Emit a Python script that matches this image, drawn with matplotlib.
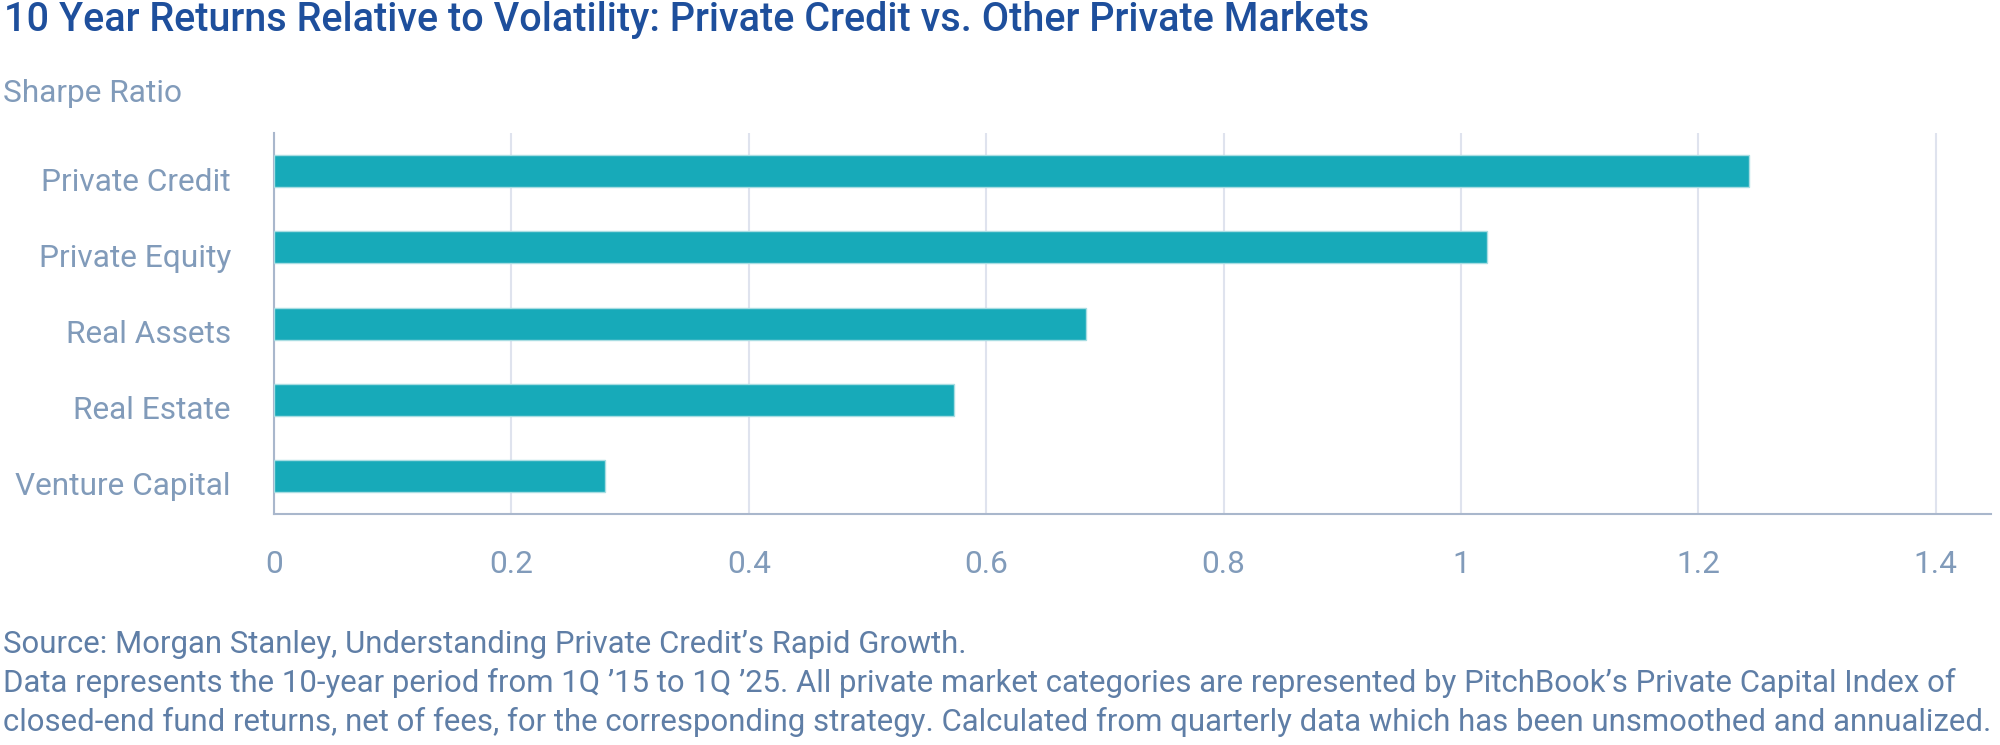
import matplotlib
matplotlib.use("Agg")
import matplotlib.pyplot as plt
from matplotlib.transforms import ScaledTranslation

categories = ["Private Credit", "Private Equity", "Real Assets", "Real Estate", "Venture Capital"]
sharpe = [1.243, 1.022, 0.684, 0.573, 0.279]
xticks = [0, 0.2, 0.4, 0.6, 0.8, 1.0, 1.2, 1.4]
xtick_labels = ["0", "0.2", "0.4", "0.6", "0.8", "1", "1.2", "1.4"]

title = "10 Year Returns Relative to Volatility: Private Credit vs. Other Private Markets"
subtitle = "Sharpe Ratio"
notes = [
    "Source: Morgan Stanley, Understanding Private Credit\u2019s Rapid Growth.",
    "Data represents the 10-year period from 1Q \u201915 to 1Q \u201925. All private market categories are represented by PitchBook\u2019s Private Capital Index of",
    "closed-end fund returns, net of fees, for the corresponding strategy. Calculated from quarterly data which has been unsmoothed and annualized.",
]

TEAL = "#17aab9"
TITLE_C = "#1e4f9c"
LABEL_C = "#819bba"
NOTE_C = "#5f7ea6"
GRID_C = "#dfe3ee"
SPINE_C = "#a9b7cc"

plt.rcParams["font.family"] = ["Roboto", "DejaVu Sans"]

W, H = 2000, 745
fig = plt.figure(figsize=(W / 100, H / 100), dpi=100)
ax = fig.add_axes([0.137, 0.31, 0.9955 - 0.137, 0.8215 - 0.31])

ypos = list(range(len(categories)))
ax.barh(ypos, sharpe, height=0.42, color=TEAL, edgecolor="#a8dde2", linewidth=1.0, zorder=3)
ax.set_ylim(len(categories) - 0.5, -0.5)
ax.set_xlim(0, 1.4465)

ax.set_yticks(ypos)
ax.set_yticklabels(categories)
ax.set_xticks(xticks)
ax.set_xticklabels(xtick_labels)
ax.tick_params(axis="y", length=0, pad=31, labelsize=22.8, labelcolor=LABEL_C)
ax.tick_params(axis="x", length=0, pad=26, labelsize=22.8, labelcolor=LABEL_C)
# category labels sit a little below the bar centres in the original
for lab in ax.get_yticklabels():
    lab.set_transform(lab.get_transform() + ScaledTranslation(0, -0.08, fig.dpi_scale_trans))

ax.grid(axis="x", color=GRID_C, linewidth=1.5, zorder=0)
ax.set_axisbelow(True)
for s in ("top", "right"):
    ax.spines[s].set_visible(False)
for s in ("left", "bottom"):
    ax.spines[s].set_color(SPINE_C)
    ax.spines[s].set_linewidth(1.5)

fig.text(4 / W, 1 - 31 / H, title, fontsize=28.5, color=TITLE_C, fontweight="medium",
         va="baseline", ha="left")
fig.text(3 / W, 1 - 102 / H, subtitle, fontsize=22.8, color=LABEL_C, va="baseline", ha="left")

for i, line in enumerate(notes):
    fig.text(3 / W, 1 - (653 + 39 * i) / H, line, fontsize=22.4, color=NOTE_C,
             va="baseline", ha="left")

fig.savefig("out.png", dpi=100)
